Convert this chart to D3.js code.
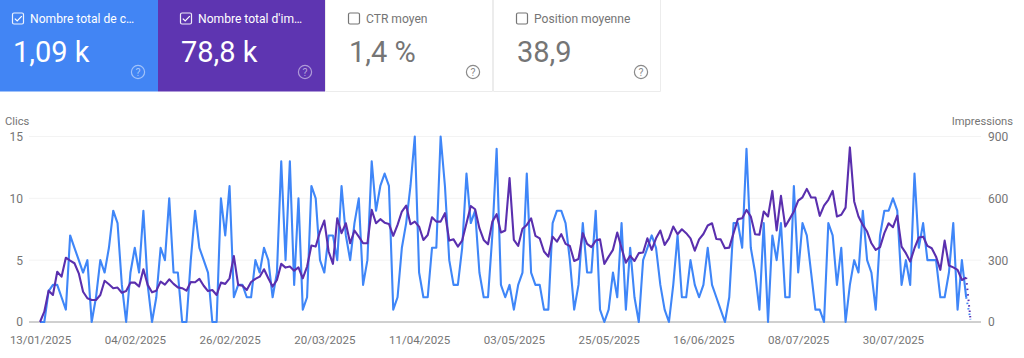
<!DOCTYPE html>
<html><head><meta charset="utf-8">
<script src="https://cdn.jsdelivr.net/npm/d3@7"></script>
<style>
html,body{margin:0;padding:0;background:#fff;overflow:hidden}
svg{display:block;font-family:Roboto,sans-serif}
</style></head><body><svg id="c" width="1024" height="358"></svg>
<script>
const startDate = "13/01/2025";
const tickLabels = ["13/01/2025","04/02/2025","26/02/2025","20/03/2025","11/04/2025","03/05/2025","25/05/2025","16/06/2025","08/07/2025","30/07/2025"];
const clicks = [0,0,2.5,3,3,2,1,7,6,5,4,5,0,2,5,4,6,9,8,3,0,4,6,4,9,3,0,2,6,5,10,4,4,0,0,5,9,6,5,4,0,0,10,7,11,2,3,3,2,2,
5,4,6,5,2,4,13,5,13,3,10,1,2,11,10,5,4,7,7,5,11,7,5,8,10,3,5,13,9,11,12,11,1,2,6,8,11,15,4,2,2,6,6,15,11,5,3,3,6,12,8,9,4,2,2,7,14,3,
2,3,1,3,4,12,4,3,3,1,1,8,9,9,8,5,1,3,8,4,4,9,1,0,1,4,2,8,1,6,2,0,5,6,7,6,3,1,0,3,7,2,2,5,3,2,3,6,3,2,1,0,2,8,8,6,14,6,
4,1,8,0,7,5,8,2,2,11,4,8,7,4,1,1,0,8,7,3,6,0,3,5,4,9,5,4,1,7,9,9,10,9,3,5,3,12,6,8,5,5,5,2,2,4,8,1,5,2,0.2];
const impressions = [0,50,152,131,244,220,312,298,285,236,147,115,107,107,131,200,183,164,167,142,150,191,191,172,256,180,144,152,196,181,207,185,168,164,152,194,193,209,176,150,155,131,191,185,212,320,180,176,155,194,
209,220,256,212,172,204,282,264,269,249,265,212,269,371,366,439,492,342,282,503,431,479,382,444,414,382,382,544,479,499,482,476,418,471,536,565,474,487,463,398,422,508,487,487,528,395,401,366,395,479,563,547,455,398,377,487,523,434,
444,698,398,369,452,471,503,418,406,342,317,414,390,426,379,369,296,306,431,379,363,395,401,282,317,350,434,358,288,321,296,334,337,406,350,406,444,374,406,463,426,450,431,406,346,401,427,468,479,403,401,358,361,431,499,503,544,512,
426,423,536,512,636,444,612,463,499,536,589,605,646,604,604,515,565,593,636,512,520,555,847,585,512,471,439,382,350,363,431,479,460,516,366,334,293,358,410,414,369,358,317,253,395,274,265,253,204,215,13];
const clicksTicks = [0,5,10,15];
const impressionTicks = [0,300,600,900];
const cards = [
 {label:"Nombre total de c…",value:"1,09 k",on:true,bg:"#4285f4"},
 {label:"Nombre total d'im…",value:"78,8 k",on:true,bg:"#5e35b1"},
 {label:"CTR moyen",value:"1,4 %",on:false,bg:"#fff"},
 {label:"Position moyenne",value:"38,9",on:false,bg:"#fff"}
];

const svg = d3.select("#c");
const parse = d3.utcParse("%d/%m/%Y"), fmt = d3.utcFormat("%d/%m/%Y");
const t0 = parse(startDate);
const dateAt = i => d3.utcDay.offset(t0, i);
const x = d3.scaleUtc().domain([t0, dateAt(216)]).range([40, 970.5]);
const yL = d3.scaleLinear().domain([0,15]).range([322,136.5]);
const yR = d3.scaleLinear().domain([0,900]).range([322,136.5]);

// cards
const cw = [158,167,168,168], cx = [0,158,325,493], inset = [12,22,23,23], helpX = [138,147,148,148];
const g = svg.selectAll("g.card").data(cards).join("g").attr("class","card")
  .attr("transform",(d,i)=>`translate(${cx[i]},0)`);
g.each(function(d,i){
  const s = d3.select(this), bx = inset[i], fg = d.on?"#fff":"#757575";
  s.append("rect").attr("width",cw[i]).attr("height",91.5).attr("fill",d.bg);
  if(!d.on) s.append("path").attr("d",`M0.5 0V91.5H${cw[i]-0.5}V0`).attr("fill","none").attr("stroke","#ececec");
  s.append("rect").attr("x",bx+.5).attr("y",13).attr("width",11).attr("height",11).attr("rx",1.5)
    .attr("fill","none").attr("stroke",fg).attr("stroke-width",1.2).attr("opacity",d.on?.9:1);
  if(d.on) s.append("path").attr("d",`M${bx+2.8} 18.6l2.4 2.4l4.6-4.8`).attr("fill","none").attr("stroke","#fff").attr("stroke-width",1.2);
  s.append("text").attr("x",bx+18).attr("y",23).attr("font-size",12.1).attr("fill",fg).text(d.label);
  s.append("text").attr("x",bx+1).attr("y",61.5).attr("font-size",29).attr("fill",fg).text(d.value);
  s.append("circle").attr("cx",helpX[i]).attr("cy",72).attr("r",6.6).attr("fill","none")
    .attr("stroke",d.on?"rgba(255,255,255,.5)":"#8a8a8a").attr("stroke-width",1.2);
  s.append("text").attr("x",helpX[i]).attr("y",76).attr("text-anchor","middle").attr("font-size",10.5)
    .attr("fill",d.on?"rgba(255,255,255,.55)":"#8a8a8a").text("?");
});

// grid
svg.append("g").selectAll("line").data(clicksTicks.slice(1)).join("line")
  .attr("x1",29).attr("x2",981).attr("y1",d=>yL(d)).attr("y2",d=>yL(d)).attr("stroke","#f3f3f3");

// axes
const axB = svg.append("g").attr("transform","translate(0,322)")
  .call(d3.axisBottom(x).tickValues(tickLabels.map(parse)).tickFormat(fmt).tickSize(0).tickPadding(14));
axB.select(".domain").remove();
axB.selectAll("text").attr("font-size",11.5).attr("fill","#757575").attr("font-family","Roboto,sans-serif");
svg.append("line").attr("x1",29).attr("x2",981).attr("y1",322).attr("y2",322).attr("stroke","#a0a0a0").attr("stroke-width",1);

const axL = svg.append("g").attr("transform","translate(23,0)")
  .call(d3.axisLeft(yL).tickValues(clicksTicks).tickFormat(d=>d).tickSize(0).tickPadding(0));
axL.select(".domain").remove();
axL.selectAll("text").attr("font-size",12).attr("fill","#757575").attr("font-family","Roboto,sans-serif");
const axR = svg.append("g").attr("transform","translate(988,0)")
  .call(d3.axisRight(yR).tickValues(impressionTicks).tickFormat(d=>d).tickSize(0).tickPadding(0));
axR.select(".domain").remove();
axR.selectAll("text").attr("font-size",12).attr("fill","#757575").attr("font-family","Roboto,sans-serif");

svg.append("text").attr("x",5).attr("y",125).attr("font-size",11.2).attr("fill","#757575").text("Clics");
svg.append("text").attr("x",1013).attr("y",125).attr("text-anchor","end").attr("font-size",11.2).attr("fill","#757575").text("Impressions");

// lines
function drawSeries(vals, y, color){
  const line = d3.line().x((d,i)=>x(dateAt(i))).y(d=>y(d));
  svg.append("path").attr("d",line(vals.slice(0,216))).attr("fill","none").attr("stroke",color)
    .attr("stroke-width",2.1).attr("stroke-linejoin","round");
  const n = vals.length;
  const dl = d3.line().x(d=>x(dateAt(d))).y(d=>y(vals[d]));
  svg.append("path").attr("d",dl([n-2,n-1])).attr("fill","none").attr("stroke",color)
    .attr("stroke-width",2).attr("stroke-dasharray","1.5 4");
}
drawSeries(clicks, yL, "#3f86f8");
drawSeries(impressions, yR, "#5a2fae");
</script></body></html>
